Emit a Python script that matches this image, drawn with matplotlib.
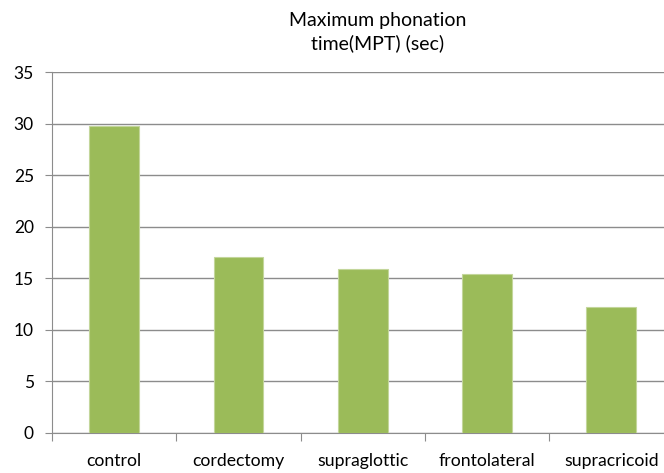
import matplotlib.pyplot as plt
import numpy as np

# data
groups = ['control', 'cordectomy', 'supraglottic', 'frontolateral', 'supracricoid']
mpt = [29.8, 17.1, 15.9, 15.4, 12.2]
yticks = [0, 5, 10, 15, 20, 25, 30, 35]

plt.rcParams['font.family'] = ['Lato', 'DejaVu Sans']

fig = plt.figure(figsize=(6.64, 4.73), dpi=100)
ax = fig.add_axes([0.0783, 0.0856, 0.936, 0.7614])

x = np.arange(len(groups))
ax.bar(x, mpt, width=0.4, color='#9BBB59', edgecolor='#C3D69B', linewidth=0.8, zorder=3)

ax.set_xlim(-0.5, len(groups) - 0.5)
ax.set_ylim(0, 35)
ax.set_yticks(yticks)
ax.yaxis.grid(True, color='#8C8C8C', linewidth=1.0, zorder=0)

# category boundaries as tick marks, labels in the middle
ax.set_xticks(np.arange(len(groups) + 1) - 0.5)
ax.set_xticklabels([])
ax.set_xticks(x, minor=True)
ax.set_xticklabels(groups, minor=True, fontsize=12.7)
ax.tick_params(axis='x', which='major', direction='out', length=6, color='#8C8C8C')
ax.tick_params(axis='x', which='minor', length=0, pad=15)
ax.tick_params(axis='y', direction='out', length=5, color='#8C8C8C', labelsize=12.5, pad=8)

for s in ['top', 'right']:
    ax.spines[s].set_visible(False)
for s in ['left', 'bottom']:
    ax.spines[s].set_color('#8C8C8C')

fig.text(0.569, 0.932, 'Maximum phonation\ntime(MPT) (sec)', ha='center', va='center',
         fontsize=14, linespacing=1.35)

fig.savefig('out.png', dpi=100)
